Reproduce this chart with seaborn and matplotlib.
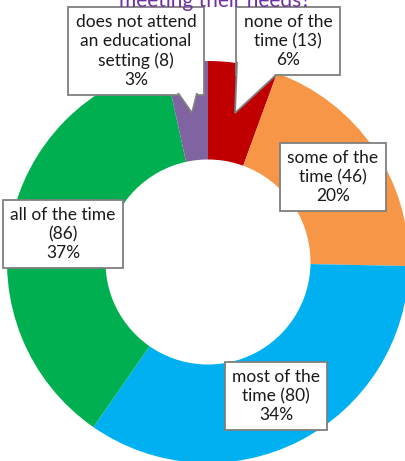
import numpy as np
import matplotlib
matplotlib.use("Agg")
import matplotlib.pyplot as plt
from matplotlib.patches import Polygon
import seaborn as sns

# --- data ---
labels = ["none of the\ntime (13)", "some of the\ntime (46)", "most of the\ntime (80)",
          "all of the time\n(86)", "does not attend\nan educational\nsetting (8)"]
counts = [13, 46, 80, 86, 8]
percents = ["6%", "20%", "34%", "37%", "3%"]
colors = ["#C00000", "#F79646", "#00B0F0", "#00B050", "#8064A2"]

sns.set_theme(style="white")
plt.rcParams["font.family"] = ["Lato", "DejaVu Sans"]

W, H = 406, 461
fig = plt.figure(figsize=(W / 100, H / 100), dpi=100)
ax = fig.add_axes([0, 0, 1, 1])

cx, cy, r = 208, H - 262, 201
ax.pie(counts, colors=colors, startangle=90, counterclock=False,
       center=(cx, cy), radius=r,
       wedgeprops=dict(width=r * 0.49, linewidth=0), frame=True)
ax.set_xlim(0, W)
ax.set_ylim(0, H)
ax.set_aspect("equal")
ax.axis("off")

# callout boxes (pixel positions of box centre)
box_pos = [(288, 41), (333, 177), (276, 396), (63, 234), (136, 51)]
# callout pointers: (base point 1, tip, base point 2) in pixels
pointers = [[(237, 62), (235, 113), (276, 75)], None, None, None,
            [(178, 93), (192, 113), (197, 93)]]

for lab, pct, (bx, by), ptr in zip(labels, percents, box_pos, pointers):
    ax.text(bx, H - by, lab + "\n" + pct, ha="center", va="center",
            fontsize=12.5, color="#1a1a1a", linespacing=1.24, zorder=3,
            bbox=dict(boxstyle="square,pad=0.42", fc="white", ec="#7f7f7f", lw=1.3))
    if ptr is not None:
        pts = [(px, H - py) for px, py in ptr]
        ax.add_patch(Polygon(pts, closed=False, fc="white", ec="#7f7f7f",
                             lw=1.3, zorder=4, joinstyle="miter"))

fig.text(0.53, 0.998, "meeting their needs?", ha="center", va="center",
         fontsize=15, color="#7030A0")

fig.savefig("out.png", dpi=100)
